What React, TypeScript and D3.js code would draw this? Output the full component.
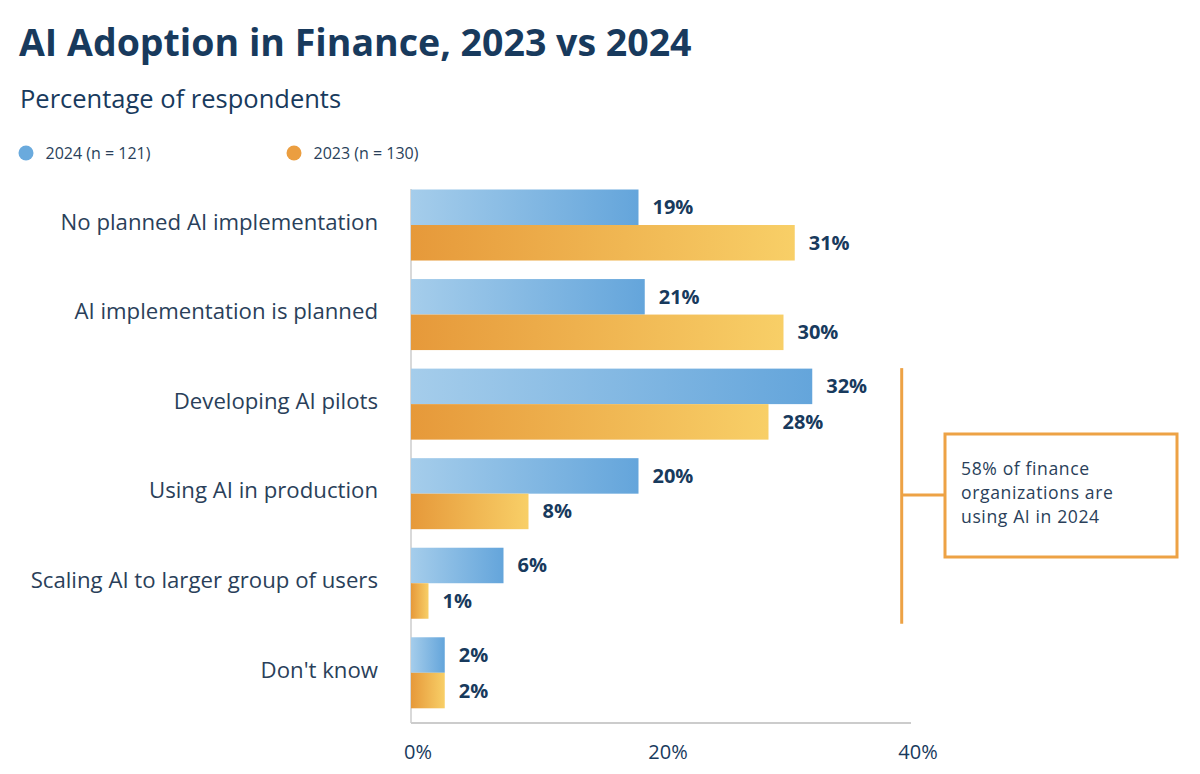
import React from "react";
import * as d3 from "d3";

const categories = [
  "No planned AI implementation",
  "AI implementation is planned",
  "Developing AI pilots",
  "Using AI in production",
  "Scaling AI to larger group of users",
  "Don't know",
];
const series = ["2024", "2023"];
const legendLabels = ["2024 (n = 121)", "2023 (n = 130)"];
const values2024 = [18.2, 18.7, 32.1, 18.2, 7.4, 2.7];
const values2023 = [30.7, 29.8, 28.6, 9.4, 1.4, 2.7];
const labels2024 = ["19%", "21%", "32%", "20%", "6%", "2%"];
const labels2023 = ["31%", "30%", "28%", "8%", "1%", "2%"];
const xTicks = [0, 20, 40];
const calloutLines = ["58% of finance", "organizations are", "using AI in 2024"];

const W = 1200;
const H = 774;
const FONT = "'Open Sans', Lato, sans-serif";
const NAVY = "#183a5d";
const TEXT = "#2a3f5a";
const ORANGE = "#eda245";

export default function App() {
  const x = d3.scaleLinear().domain([0, 40]).range([411, 911]);
  const y = d3
    .scaleBand<string>()
    .domain(categories)
    .range([189.5, 708.3])
    .paddingInner(0.207)
    .paddingOuter(0);
  const ySub = d3.scaleBand<string>().domain(series).range([0, y.bandwidth()]);

  const rows = categories.map((c, i) => ({
    c,
    bars: [
      { s: "2024", v: values2024[i], label: labels2024[i], grad: "url(#gBlue)" },
      { s: "2023", v: values2023[i], label: labels2023[i], grad: "url(#gOrange)" },
    ],
  }));

  const bracketTop = (y(categories[2]) ?? 0) - 0.5;
  const bracketBottom = (y(categories[4]) ?? 0) + y.bandwidth() + 5;
  const bracketX = 901.7;
  const boxX = 945;
  const boxY = 434;
  const boxW = 232;
  const boxH = 123;

  return (
    <svg
      width={W}
      height={H}
      style={{ position: "absolute", left: 0, top: 0, display: "block", background: "#fff" }}
      fontFamily={FONT}
    >
      <defs>
        <linearGradient id="gBlue" x1="0" x2="1" y1="0" y2="0">
          <stop offset="0" stopColor="#a5cdeb" />
          <stop offset="1" stopColor="#64a5db" />
        </linearGradient>
        <linearGradient id="gOrange" x1="0" x2="1" y1="0" y2="0">
          <stop offset="0" stopColor="#e6993a" />
          <stop offset="1" stopColor="#f8cf67" />
        </linearGradient>
      </defs>

      <text x={19} y={56} fontSize={37.5} fontWeight={700} fill={NAVY}>
        AI Adoption in Finance, 2023 vs 2024
      </text>
      <text x={20} y={108} fontSize={25.5} fill={NAVY}>
        Percentage of respondents
      </text>

      {legendLabels.map((l, i) => (
        <g key={l} transform={`translate(${i === 0 ? 26 : 294},153)`}>
          <circle r={7.5} fill={i === 0 ? "#6aaadd" : "#eb9e40"} />
          <text x={19.5} dy="0.35em" fontSize={16} fill={TEXT}>
            {l}
          </text>
        </g>
      ))}

      {/* axes */}
      <line x1={x(0)} x2={x(0)} y1={189} y2={723} stroke="#cccccc" strokeWidth={1.5} />
      <line x1={x(0)} x2={x(40)} y1={723} y2={723} stroke="#cccccc" strokeWidth={2} />
      {xTicks.map((t) => (
        <text key={t} x={x(t) + 7} y={759} fontSize={20} textAnchor="middle" fill={NAVY}>
          {t}%
        </text>
      ))}

      {rows.map((r) => (
        <g key={r.c} transform={`translate(0,${y(r.c)})`}>
          <text
            x={378}
            y={y.bandwidth() / 2 - 3}
            dy="0.35em"
            textAnchor="end"
            fontSize={22.2}
            fill={TEXT}
          >
            {r.c}
          </text>
          {r.bars.map((b) => (
            <g key={b.s}>
              <rect
                x={x(0)}
                y={ySub(b.s)}
                width={x(b.v) - x(0)}
                height={ySub.bandwidth()}
                fill={b.grad}
              />
              <text
                x={x(b.v) + 14}
                y={(ySub(b.s) ?? 0) + ySub.bandwidth() / 2}
                dy="0.35em"
                fontSize={20}
                fontWeight={700}
                fill={NAVY}
              >
                {b.label}
              </text>
            </g>
          ))}
        </g>
      ))}

      {/* bracket callout */}
      <line x1={bracketX} x2={bracketX} y1={bracketTop} y2={bracketBottom} stroke={ORANGE} strokeWidth={3} />
      <line x1={bracketX} x2={boxX} y1={495} y2={495} stroke={ORANGE} strokeWidth={3} />
      <rect x={boxX} y={boxY} width={boxW} height={boxH} fill="#fff" stroke={ORANGE} strokeWidth={3} />
      {calloutLines.map((l, i) => (
        <text key={l} x={961} y={475 + i * 24} fontSize={17.6} letterSpacing={0.6} fill={TEXT}>
          {l}
        </text>
      ))}
    </svg>
  );
}
